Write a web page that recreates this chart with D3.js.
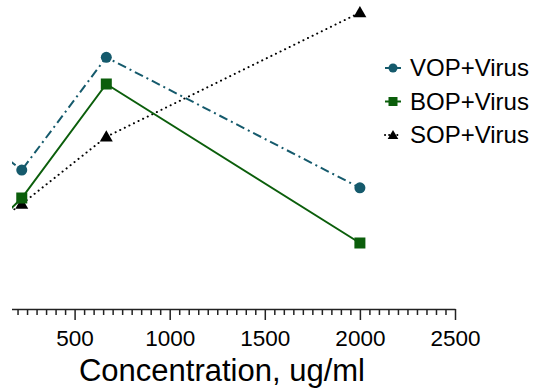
<!DOCTYPE html>
<html>
<head>
<meta charset="utf-8">
<script src="https://cdn.jsdelivr.net/npm/d3@7"></script>
<style>
  body { margin: 0; background: #fff; }
  text { font-family: Arial, "Liberation Sans", sans-serif; fill: #000; }
</style>
</head>
<body>
<div id="chart"></div>
<script>
// 3-fold dilution series (first point falls left of the cropped frame)
var concentrations = [74.07, 222.2, 666.7, 2000];
var seriesNames = ["VOP+Virus", "BOP+Virus", "SOP+Virus"];
var vopValues = [53.7, 46.3, 83.9, 40.4];
var bopValues = [27.7, 37.0, 75.0, 22.0];
var sopValues = [28.3, 35.0, 57.4, 98.8];
var tickLabels = [500, 1000, 1500, 2000, 2500];

var svgWidth = 535;
var svgHeight = 390;

var svg = d3.select("#chart")
  .append("svg")
  .attr("width", svgWidth)
  .attr("height", svgHeight);

// the original picture is cut off on the left
svg.append("clipPath")
  .attr("id", "crop")
  .append("rect")
  .attr("x", 12)
  .attr("y", 0)
  .attr("width", svgWidth - 12)
  .attr("height", svgHeight);

var plot = svg.append("g").attr("clip-path", "url(#crop)");

var xScale = d3.scaleLinear()
  .domain([0, 2500])
  .range([-20.5, 455]);

var yScale = d3.scaleLinear()
  .domain([0, 100])
  .range([309, 9]);

// x axis: minor ticks every 50, labelled every 500
var minorTicks = d3.range(0, 2501, 50).filter(d => d % 500 !== 0);

var axisG = plot.append("g")
  .attr("transform", "translate(0, 309)");

axisG.call(d3.axisBottom(xScale)
  .tickValues(tickLabels.concat([0]))
  .tickSize(11)
  .tickSizeOuter(0)
  .tickFormat(d => d === 0 ? "" : d));

axisG.append("g")
  .call(d3.axisBottom(xScale).tickValues(minorTicks).tickSize(6).tickFormat(""))
  .select(".domain").remove();

axisG.selectAll("path, line")
  .attr("stroke", "#222")
  .attr("stroke-width", 1.5);

axisG.attr("font-size", null).attr("font-family", null);

axisG.selectAll("text")
  .attr("y", 21)
  .attr("dy", "0.71em")
  .attr("font-size", 22.5)
  .attr("fill", "#000");

svg.append("text")
  .attr("x", 222)
  .attr("y", 381)
  .attr("text-anchor", "middle")
  .attr("font-size", 31)
  .text("Concentration, ug/ml");

var series = [
  { name: seriesNames[0], values: vopValues, color: "#155a6c", dash: "9,4,2,4", shape: "circle" },
  { name: seriesNames[1], values: bopValues, color: "#0b5e0b", dash: null, shape: "square" },
  { name: seriesNames[2], values: sopValues, color: "#000000", dash: "0.1,5", shape: "triangle" }
];

var lineGen = d3.line()
  .x((d, i) => xScale(concentrations[i]))
  .y(d => yScale(d));

function drawMarker(g, shape, color, x, y, size) {
  if (shape === "circle") {
    g.append("circle").attr("cx", x).attr("cy", y).attr("r", size * 0.5).attr("fill", color);
  } else if (shape === "square") {
    g.append("rect").attr("x", x - size * 0.5).attr("y", y - size * 0.5)
      .attr("width", size).attr("height", size).attr("fill", color);
  } else {
    g.append("path")
      .attr("d", d3.symbol().type(d3.symbolTriangle).size(size * size * 0.6)())
      .attr("transform", `translate(${x}, ${y + 1})`)
      .attr("fill", color);
  }
}

// draw in reverse so the teal series sits on top
series.slice().reverse().forEach(function(s) {
  plot.append("path")
    .datum(s.values)
    .attr("d", lineGen)
    .attr("fill", "none")
    .attr("stroke", s.color)
    .attr("stroke-width", 2)
    .attr("stroke-linecap", s.dash === "0.1,5" ? "round" : "butt")
    .attr("stroke-dasharray", s.dash);

  s.values.forEach(function(v, i) {
    drawMarker(plot, s.shape, s.color, xScale(concentrations[i]), yScale(v), 11);
  });
});

// legend
var legend = svg.append("g").attr("transform", "translate(385, 68)");

series.forEach(function(s, i) {
  var row = legend.append("g").attr("transform", `translate(0, ${i * 33.5})`);
  row.append("line")
    .attr("x1", 0).attr("x2", 16)
    .attr("y1", 0).attr("y2", 0)
    .attr("stroke", s.color)
    .attr("stroke-width", 2)
    .attr("stroke-linecap", s.dash === "0.1,5" ? "round" : "butt")
    .attr("stroke-dasharray", s.dash === "0.1,5" ? "0.1,4" : null);
  drawMarker(row, s.shape, s.color, 8, 0, 9);
  row.append("text")
    .attr("x", 25)
    .attr("y", 0)
    .attr("dy", "0.35em")
    .attr("font-size", 24)
    .text(s.name);
});
</script>
</body>
</html>
